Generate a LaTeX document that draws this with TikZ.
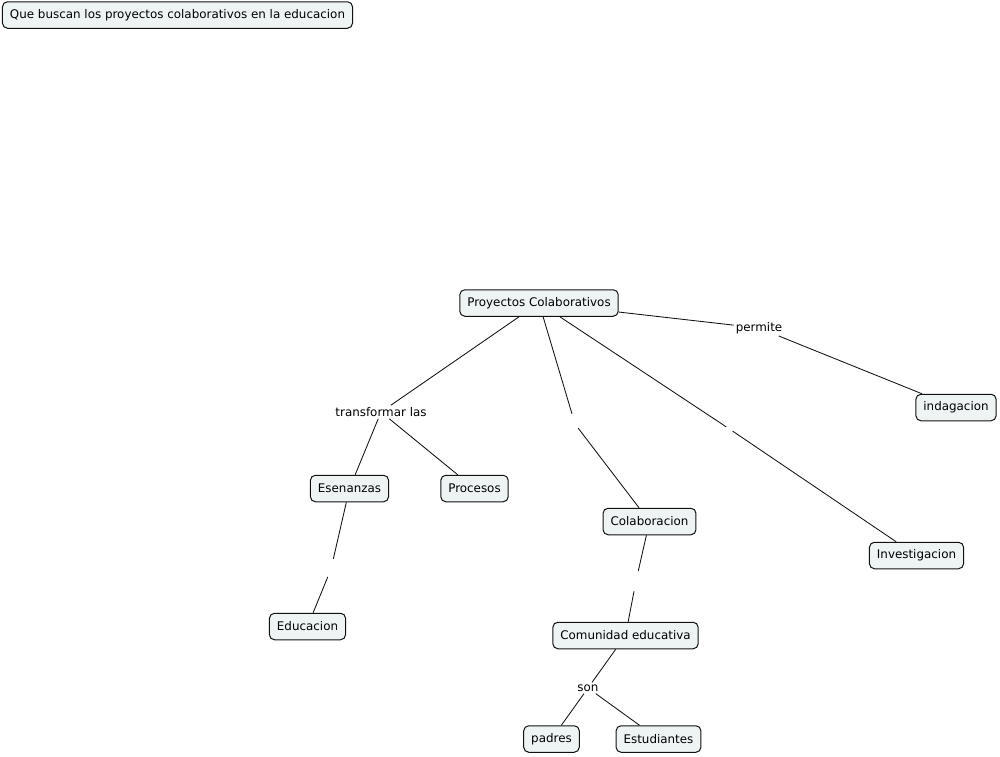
\documentclass[tikz,border=0pt]{standalone}
\usepackage{fontspec}
\setmainfont{DejaVu Sans}
\usetikzlibrary{positioning}
\definecolor{cmapfill}{HTML}{EEF4F4}
\definecolor{cmapline}{HTML}{111111}

\begin{document}
\begin{tikzpicture}[x=1pt, y=-1pt,
  concept/.style={draw=cmapline, fill=cmapfill, rounded corners=5pt, line width=1pt,
    font=\fontsize{11.9}{14}\selectfont, inner xsep=7.5pt, minimum height=26.5pt},
  linkphrase/.style={font=\fontsize{11.9}{14}\selectfont, inner sep=2pt},
  blanklink/.style={minimum width=6pt, minimum height=20pt, inner sep=0pt},
  conn/.style={cmapline, line width=0.85pt}]

\useasboundingbox (0,0) rectangle (1000,756);

% Concepts
\node[concept] (titulo) at (177.5,15) {Que buscan los proyectos colaborativos en la educacion};
\node[concept] (proyectos) at (539,303) {Proyectos Colaborativos};
\node[concept] (indagacion) at (956,407.5) {indagacion};
\node[concept] (esenanzas) at (349.5,488.5) {Esenanzas};
\node[concept] (procesos) at (474.5,488.5) {Procesos};
\node[concept] (colaboracion) at (649.5,521.5) {Colaboracion};
\node[concept] (investigacion) at (916.5,555.5) {Investigacion};
\node[concept] (educacion) at (307.5,626.5) {Educacion};
\node[concept] (comunidad) at (625.5,635.5) {Comunidad educativa};
\node[concept] (padres) at (551.5,739) {padres};
\node[concept] (estudiantes) at (658.5,739) {Estudiantes};

% Linking phrases
\node[linkphrase] (permite) at (759,328) {permite};
\node[linkphrase] (transformar) at (381,412) {transformar las};
\node[linkphrase] (son) at (588,688) {son};
\node[blanklink] (vacio1) at (575,424) {};
\node[blanklink] (vacio2) at (729.5,429) {};
\node[blanklink] (vacio3) at (331,569) {};
\node[blanklink] (vacio4) at (636,581) {};

% Connections
\draw[conn] (proyectos) -- (permite) -- (indagacion);
\draw[conn] (proyectos) -- (transformar);
\draw[conn] (transformar) -- (esenanzas);
\draw[conn] (transformar) -- (procesos);
\draw[conn] (proyectos) -- (vacio1) -- (colaboracion);
\draw[conn] (proyectos) -- (vacio2) -- (investigacion);
\draw[conn] (esenanzas) -- (vacio3) -- (educacion);
\draw[conn] (colaboracion) -- (vacio4) -- (comunidad);
\draw[conn] (comunidad) -- (son);
\draw[conn] (son) -- (padres);
\draw[conn] (son) -- (estudiantes);

\end{tikzpicture}
\end{document}
